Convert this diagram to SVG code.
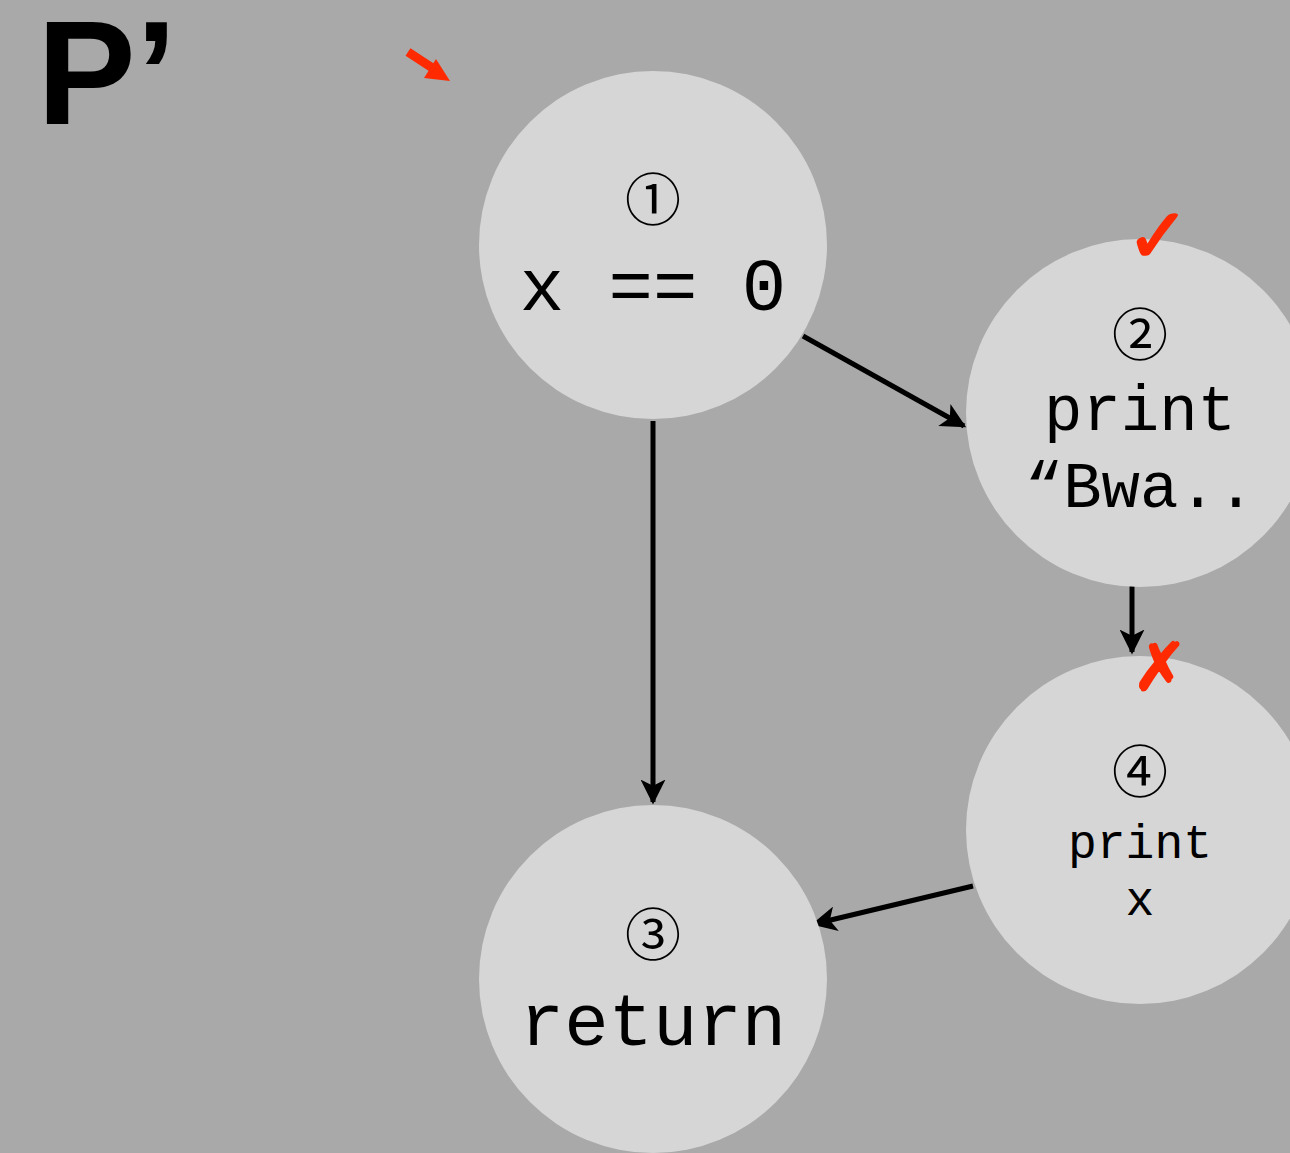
<svg xmlns="http://www.w3.org/2000/svg" width="1290" height="1153" viewBox="0 0 1290 1153">
  <style>
    .node { fill: #d6d6d6; }
    .num { font-family: "Noto Sans CJK JP", "DejaVu Sans", sans-serif; font-size: 56px; fill: #000; text-anchor: middle; }
    .code { font-family: "Liberation Mono", "Courier New", monospace; fill: #000; text-anchor: middle; }
    .edge { stroke: #000; stroke-width: 5; fill: none; marker-end: url(#head); }
    .mark { font-family: "DejaVu Sans", sans-serif; fill: #ff2a00; stroke: #ff2a00; stroke-width: 2; text-anchor: middle; }
  </style>
  <defs>
    <marker id="head" viewBox="0 0 10 10" refX="9" refY="5" markerWidth="5" markerHeight="5" orient="auto" markerUnits="strokeWidth">
      <path d="M0,0 L10,5 L0,10 L2.5,5 Z" fill="#000"/>
    </marker>
  </defs>
  <rect width="1290" height="1153" fill="#a9a9a9"/>

  <text x="37" y="124" font-family="Liberation Sans, Arial, sans-serif" font-weight="bold" font-size="148" fill="#000">P’</text>

  <!-- red pointer toward the entry node -->
  <g id="entry-pointer">
    <line x1="408" y1="52" x2="434" y2="69" stroke="#ff2a00" stroke-width="9"/>
    <polygon points="450,81 436,59 424,78" fill="#ff2a00"/>
  </g>

  <g id="connectors">
    <line class="edge" x1="803" y1="336" x2="964" y2="426"/>
    <line class="edge" x1="653" y1="421" x2="653" y2="802"/>
    <line class="edge" x1="1132" y1="584" x2="1132" y2="652"/>
    <line class="edge" x1="973" y1="886" x2="814" y2="924"/>
  </g>

  <g id="node1">
    <circle class="node" cx="653" cy="245" r="174"/>
    <text class="num" x="653" y="220">①</text>
    <text class="code" x="653" y="310" font-size="74">x == 0</text>
  </g>

  <g id="node2">
    <circle class="node" cx="1140" cy="413" r="174"/>
    <text class="num" x="1140" y="355">②</text>
    <text class="code" x="1140" y="430" font-size="64">print</text>
    <text class="code" x="1140" y="507" font-size="64">“Bwa..</text>
    <text class="mark" x="1158" y="262" font-size="76">✓</text>
  </g>

  <g id="node3">
    <circle class="node" cx="653" cy="979" r="174"/>
    <text class="num" x="653" y="955">③</text>
    <text class="code" x="653" y="1045" font-size="74">return</text>
  </g>

  <g id="node4">
    <circle class="node" cx="1140" cy="830" r="174"/>
    <text class="num" x="1140" y="792">④</text>
    <text class="code" x="1140" y="858" font-size="48">print</text>
    <text class="code" x="1140" y="915" font-size="48">x</text>
    <text class="mark" x="1160" y="690" font-size="66">✗</text>
  </g>
</svg>
